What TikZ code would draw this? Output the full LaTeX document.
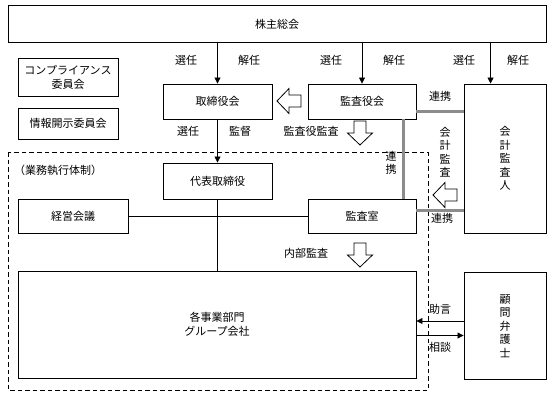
\documentclass[tikz,border=0pt]{standalone}
\usepackage{fontspec}
\newfontfamily\jp{Noto Sans CJK JP}
\usetikzlibrary{arrows.meta,calc}
\tikzset{
  box/.style={draw, line width=0.9pt, fill=white, align=center, inner sep=0pt},
  arr/.style={line width=0.8pt, -{Triangle[length=6pt,width=6pt]}},
  plain/.style={line width=0.8pt},
  glink/.style={line width=2.4pt, draw=black!45},
  lbl/.style={inner sep=0pt, align=center},
  vlbl/.style={inner sep=0pt, align=center, font=\jp\fontsize{11}{13.5}\selectfont},
  hollow/.pic={\draw[fill=white, line width=0.8pt] (-6,-12) -- (6,-12) -- (6,0) -- (12.5,0) -- (0,12) -- (-12.5,0) -- (-6,0) -- cycle;}
}
\begin{document}
\begin{tikzpicture}[x=1pt,y=-1pt, font=\jp\fontsize{11}{14}\selectfont]
\useasboundingbox (0,0) rectangle (553,397);
% dashed frame
\draw[dashed, line width=0.9pt, dash pattern=on 4.5pt off 3pt] (8,152) rectangle (428,390);
\node[lbl, anchor=west] (frame) at (14,170) {（業務執行体制）};
% boxes
\node[box, minimum width=538, minimum height=37] (gm) at (277,24) {株主総会};
\node[box, minimum width=100, minimum height=38] (comp) at (68,77) {コンプライアンス\\委員会};
\node[box, minimum width=100, minimum height=31] (disc) at (68,123.5) {情報開示委員会};
\node[box, minimum width=109, minimum height=35] (board) at (217.5,101.5) {取締役会};
\node[box, minimum width=108, minimum height=35] (kansa) at (362,101.5) {監査役会};
\node[vlbl, box, minimum width=82, minimum height=149] (aud) at (505,158.5) {会\\計\\監\\査\\人};
\node[box, minimum width=109, minimum height=36] (rep) at (217.5,181) {代表取締役};
\node[box, minimum width=110, minimum height=34] (keiei) at (73,216) {経営会議};
\node[box, minimum width=108, minimum height=34] (office) at (362,216) {監査室};
\node[box, minimum width=398, minimum height=107] (biz) at (217,324.5) {各事業部門\\グループ会社};
\node[vlbl, box, minimum width=82, minimum height=107] (law) at (505,326) {顧\\問\\弁\\護\\士};
% arrows from GM
\draw[arr] (board.north |- gm.south) -- (board.north);
\draw[arr] (kansa.north |- gm.south) -- (kansa.north);
\coordinate (audtop) at ($(aud.north west)+(27,0)$);
\draw[arr] (audtop |- gm.south) -- (audtop);
\node[lbl] at (186,60) {選任};
\node[lbl] at (249,60) {解任};
\node[lbl] at (331,60) {選任};
\node[lbl] at (394,60) {解任};
\node[lbl] at (464,60) {選任};
\node[lbl] at (518,60) {解任};
% board to rep
\draw[arr] (board) -- (rep);
\node[lbl] at (188,131) {選任};
\node[lbl] at (240,131) {監督};
\draw[plain] (rep) -- (biz.north -| rep);
\draw[plain] (keiei) -- (office);
% gray links
\coordinate (g1) at ($(kansa.south east)+(0,-8)$);
\draw[glink] (g1) -- (g1 -| aud.west);
\node[lbl] at (440,96) {連携};
\coordinate (g2) at ($(kansa.south east)+(-13,0)$);
\draw[glink] (g2) -- (g2 |- office.north);
\node[vlbl] at (391,163) {連\\携};
\coordinate (g3) at ($(office.north east)+(0,12)$);
\draw[glink] (g3) -- (g3 -| aud.west);
\node[lbl] at (442,218) {連携};
\node[vlbl] at (445,152) {会\\計\\監\\査};
% hollow arrows
\pic at (289,101) [rotate=-90] {hollow};
\pic at (360,133) {hollow};
\node[lbl] at (311,131) {監査役監査};
\pic at (445,195) [rotate=-90] {hollow};
\pic at (360,255) {hollow};
\node[lbl] at (306,253) {内部監査};
% lawyer arrows
\coordinate (l1) at ($(law.west)+(0,-5)$);
\draw[arr] (l1) -- (l1 -| biz.east);
\node[lbl] at (440,309) {助言};
\coordinate (l2) at ($(biz.east)+(0,11)$);
\draw[arr] (l2) -- (l2 -| law.west);
\node[lbl] at (440,347) {相談};
\end{tikzpicture}
\end{document}
